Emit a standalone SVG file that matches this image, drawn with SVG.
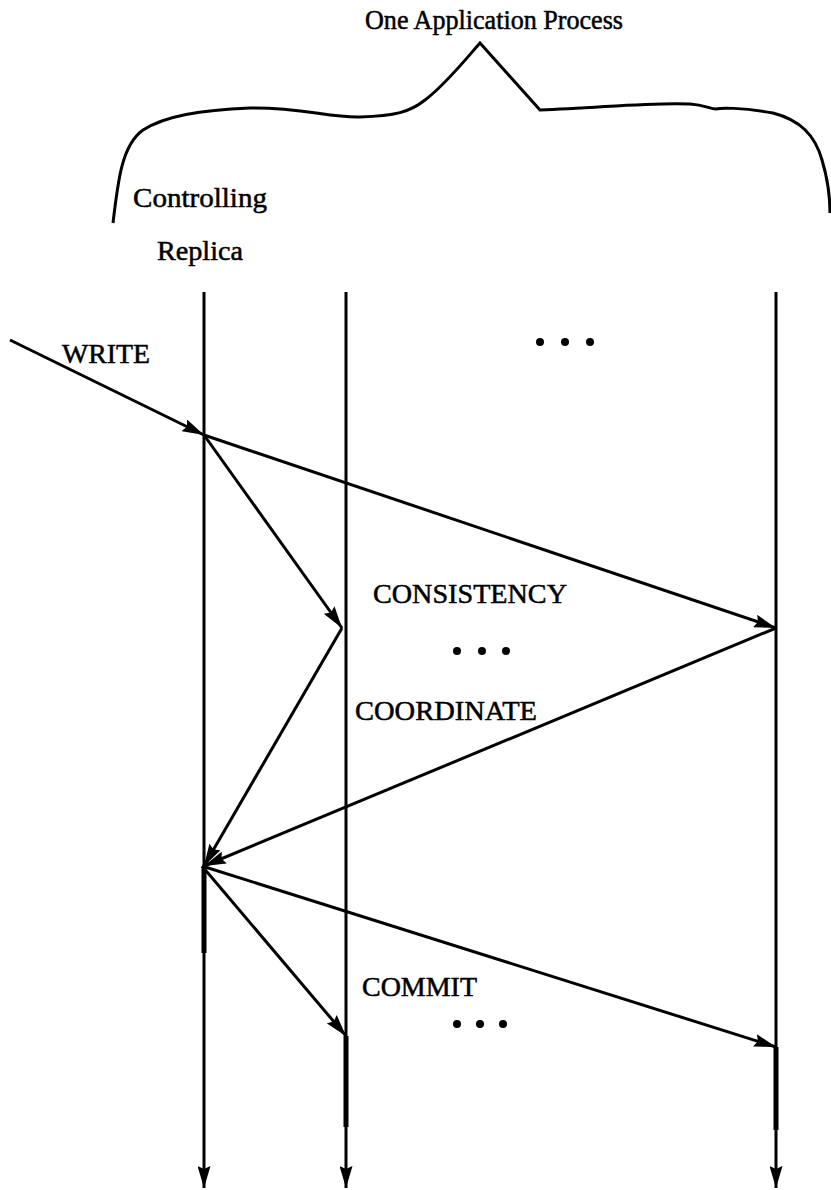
<svg xmlns="http://www.w3.org/2000/svg" width="831" height="1190" viewBox="0 0 831 1190">
<style>
text{font-family:"Liberation Serif","Times New Roman",serif;font-size:27px;fill:#000;stroke:#000;stroke-width:0.5}
.ln{stroke:#000;stroke-width:3;fill:none}
.br{stroke:#000;stroke-width:3;fill:none;stroke-linejoin:miter}
.thick{stroke:#000;stroke-width:5;fill:none}
.dot{fill:#000}
</style>
<defs>
<marker id="ah" viewBox="0 0 22 13" refX="22" refY="6.5" markerWidth="22" markerHeight="13" markerUnits="userSpaceOnUse" orient="auto">
<path d="M0,0 L22,6.5 L0,13 L3,6.5 Z" fill="#000"/>
</marker>
</defs>
<rect width="831" height="1190" fill="#fff"/>
<g id="brace">
<path class="br" d="M113,223 C118,180 122,145 143,130 C165,116 200,110 250,108 C300,107 330,118 360,117 C395,116 410,112 425,100 C445,85 465,60 480,43 L540,110 C600,108 650,102 690,104 C705,105 710,109 716,109 C720,108 740,107 773,113 C800,120 815,135 822,160 C828,180 830,200 830,213"/>
<text x="365" y="29" font-size="25" textLength="258" lengthAdjust="spacingAndGlyphs">One Application Process</text>
</g>
<g id="controlling">
<text x="133" y="207" textLength="134" lengthAdjust="spacingAndGlyphs">Controlling</text>
<text x="157" y="260" textLength="86" lengthAdjust="spacingAndGlyphs">Replica</text>
</g>
<g id="timelines">
<line id="t1" class="ln" x1="204" y1="292" x2="204" y2="1188" marker-end="url(#ah)"/>
<line id="t2" class="ln" x1="346" y1="292" x2="346" y2="1188" marker-end="url(#ah)"/>
<line id="t3" class="ln" x1="776" y1="292" x2="776" y2="1188" marker-end="url(#ah)"/>
<line class="thick" x1="204" y1="867" x2="204" y2="953"/>
<line class="thick" x1="346" y1="1036" x2="346" y2="1127"/>
<line class="thick" x1="776" y1="1047" x2="776" y2="1130"/>
</g>
<g id="connectors">
<line class="ln" x1="10" y1="340" x2="204" y2="435" marker-end="url(#ah)"/>
<line class="ln" x1="204" y1="435" x2="776" y2="628" marker-end="url(#ah)"/>
<line class="ln" x1="204" y1="435" x2="342" y2="628" marker-end="url(#ah)"/>
<line class="ln" x1="342" y1="628" x2="204" y2="866" marker-end="url(#ah)"/>
<line class="ln" x1="776" y1="628" x2="204" y2="866" marker-end="url(#ah)"/>
<line class="ln" x1="202" y1="866" x2="346" y2="1036" marker-end="url(#ah)"/>
<line class="ln" x1="202" y1="866" x2="776" y2="1047" marker-end="url(#ah)"/>
</g>
<g id="labels">
<text x="62" y="363" textLength="88" lengthAdjust="spacingAndGlyphs">WRITE</text>
<text x="373" y="603" textLength="194" lengthAdjust="spacingAndGlyphs">CONSISTENCY</text>
<text x="355" y="720" textLength="182" lengthAdjust="spacingAndGlyphs">COORDINATE</text>
<text x="362" y="996" textLength="115" lengthAdjust="spacingAndGlyphs">COMMIT</text>
</g>
<g id="ellipses">
<circle class="dot" cx="540" cy="342" r="4"/><circle class="dot" cx="565" cy="342" r="4"/><circle class="dot" cx="590" cy="342" r="4"/>
<circle class="dot" cx="457" cy="651" r="4"/><circle class="dot" cx="482" cy="651" r="4"/><circle class="dot" cx="506" cy="651" r="4"/>
<circle class="dot" cx="457" cy="1024" r="4"/><circle class="dot" cx="480" cy="1024" r="4"/><circle class="dot" cx="503" cy="1024" r="4"/>
</g>
</svg>
